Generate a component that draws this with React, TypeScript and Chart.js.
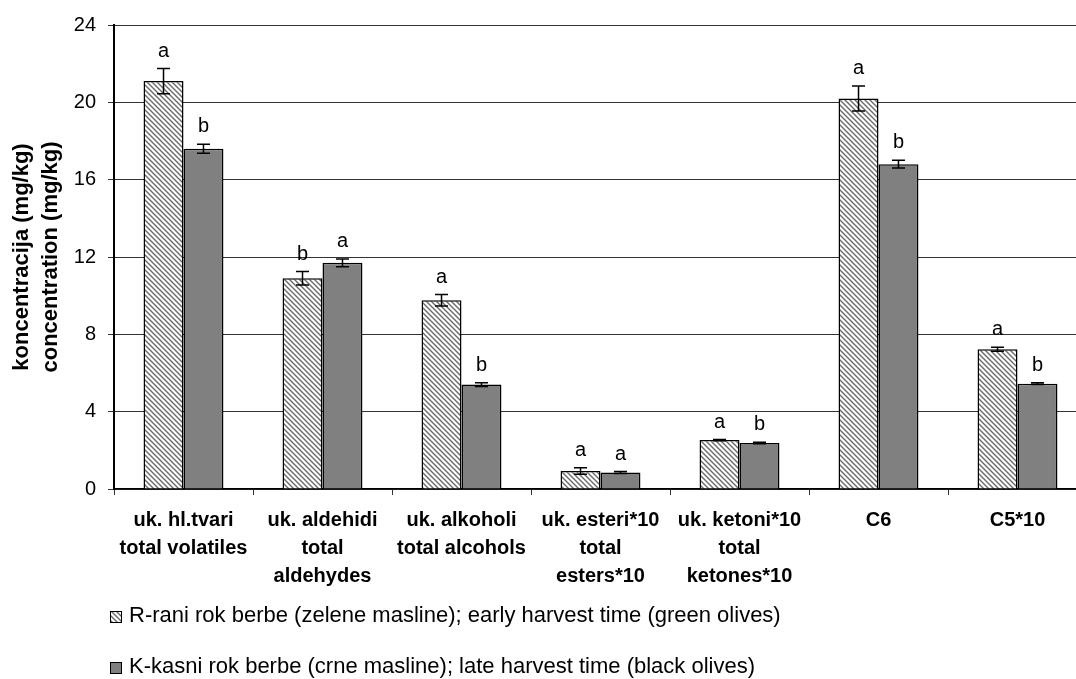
import React, { useEffect, useRef } from "react";
import { Chart, registerables } from "chart.js";

Chart.register(...registerables);

const categories: string[][] = [
  ["uk. hl.tvari", "total volatiles"],
  ["uk. aldehidi", "total", "aldehydes"],
  ["uk. alkoholi", "total alcohols"],
  ["uk. esteri*10", "total", "esters*10"],
  ["uk. ketoni*10", "total", "ketones*10"],
  ["C6"],
  ["C5*10"],
];

const earlyLabel = "R-rani rok berbe (zelene masline); early harvest time (green olives)";
const lateLabel = "K-kasni rok berbe (crne masline); late harvest time (black olives)";

const earlyValues = [21.1, 10.9, 9.76, 0.93, 2.53, 20.2, 7.23];
const lateValues = [17.6, 11.7, 5.4, 0.85, 2.38, 16.8, 5.45];

const earlyErrors = [0.65, 0.35, 0.3, 0.17, 0.03, 0.65, 0.1];
const lateErrors = [0.23, 0.2, 0.1, 0.05, 0.04, 0.2, 0.04];

const earlyLetters = ["a", "b", "a", "a", "a", "a", "a"];
const lateLetters = ["b", "a", "b", "a", "b", "b", "b"];

const yMin = 0;
const yMax = 24;
const yStep = 4;

const FONT = "'Liberation Sans', Arial, Helvetica, sans-serif";

function makeHatch(): CanvasPattern | string {
  const c = document.createElement("canvas");
  const s = 5;
  c.width = s;
  c.height = s;
  const ctx = c.getContext("2d");
  if (!ctx) return "#ccc";
  ctx.fillStyle = "#ffffff";
  ctx.fillRect(0, 0, s, s);
  ctx.strokeStyle = "#6a6a6a";
  ctx.lineWidth = 1.4;
  ctx.beginPath();
  ctx.moveTo(-1, -1);
  ctx.lineTo(s + 1, s + 1);
  ctx.moveTo(-1, s - 1);
  ctx.lineTo(1, s + 1);
  ctx.moveTo(s - 1, -1);
  ctx.lineTo(s + 1, 1);
  ctx.stroke();
  const p = ctx.createPattern(c, "repeat");
  return p || "#ccc";
}

export default function App() {
  const ref = useRef<HTMLCanvasElement | null>(null);

  useEffect(() => {
    if (!ref.current) return;
    const hatch = makeHatch();
    const errors = [earlyErrors, lateErrors];
    const letters = [earlyLetters, lateLetters];

    const errorPlugin = {
      id: "errorBarsLetters",
      afterDatasetsDraw(chart: any) {
        const ctx = chart.ctx as CanvasRenderingContext2D;
        const y = chart.scales.y;
        ctx.save();
        chart.data.datasets.forEach((ds: any, i: number) => {
          const meta = chart.getDatasetMeta(i);
          meta.data.forEach((el: any, j: number) => {
            const v = ds.data[j] as number;
            const e = errors[i][j];
            const x = el.x;
            const yt = y.getPixelForValue(v + e);
            const yb = y.getPixelForValue(v - e);
            ctx.strokeStyle = "#000";
            ctx.lineWidth = 1.5;
            ctx.beginPath();
            ctx.moveTo(x, yt);
            ctx.lineTo(x, yb);
            ctx.moveTo(x - 6.5, yt);
            ctx.lineTo(x + 6.5, yt);
            ctx.moveTo(x - 6.5, yb);
            ctx.lineTo(x + 6.5, yb);
            ctx.stroke();
            ctx.fillStyle = "#000";
            ctx.font = `20px ${FONT}`;
            ctx.textAlign = "center";
            ctx.textBaseline = "alphabetic";
            ctx.fillText(letters[i][j], x, yt - 12);
          });
        });
        ctx.restore();
      },
    };

    const legendPlugin = {
      id: "customLegend",
      afterDraw(chart: any) {
        const ctx = chart.ctx as CanvasRenderingContext2D;
        const items = [
          { label: earlyLabel, fill: hatch, base: 622 },
          { label: lateLabel, fill: "#808080", base: 673 },
        ];
        ctx.save();
        items.forEach((it) => {
          ctx.fillStyle = it.fill as any;
          ctx.fillRect(110, it.base - 11, 12, 12);
          ctx.strokeStyle = "#000";
          ctx.lineWidth = 1;
          ctx.strokeRect(110.5, it.base - 10.5, 11, 11);
          ctx.fillStyle = "#000";
          ctx.font = `22px ${FONT}`;
          ctx.textAlign = "left";
          ctx.textBaseline = "alphabetic";
          ctx.fillText(it.label, 129, it.base);
        });
        ctx.restore();
      },
    };

    const chart = new Chart(ref.current, {
      type: "bar",
      data: {
        labels: categories,
        datasets: [
          {
            label: earlyLabel,
            data: earlyValues,
            backgroundColor: hatch as any,
            borderColor: "#000",
            borderWidth: 1.5,
            barPercentage: 1,
            categoryPercentage: 0.575,
          },
          {
            label: lateLabel,
            data: lateValues,
            backgroundColor: "#808080",
            borderColor: "#000",
            borderWidth: 1.5,
            barPercentage: 1,
            categoryPercentage: 0.575,
          },
        ],
      },
      options: {
        responsive: false,
        animation: false,
        events: [],
        layout: { padding: { top: 25, right: 13, bottom: 0, left: 0 } },
        plugins: {
          legend: { display: false },
          tooltip: { enabled: false },
          title: { display: false },
        },
        scales: {
          x: {
            offset: true,
            grid: {
              offset: true,
              drawOnChartArea: false,
              drawTicks: true,
              tickLength: 6,
              color: "#333",
            },
            border: { display: true, color: "#000", width: 1.5 },
            ticks: {
              color: "#000",
              padding: 11,
              maxRotation: 0,
              autoSkip: false,
              font: { family: FONT, size: 20, weight: "bold", lineHeight: 1.4 },
            },
            afterFit: (scale: any) => {
              scale.height = 190;
            },
          },
          y: {
            min: yMin,
            max: yMax,
            grid: {
              color: "#333",
              lineWidth: 1,
              drawTicks: true,
              tickLength: 6,
            },
            border: { display: true, color: "#000", width: 2 },
            ticks: {
              stepSize: yStep,
              color: "#000",
              padding: 12,
              font: { family: FONT, size: 20 },
            },
            title: {
              display: true,
              text: ["koncentracija (mg/kg)", "concentration (mg/kg)"],
              color: "#000",
              padding: { top: 7.5, bottom: 0 },
              font: { family: FONT, size: 22, weight: "bold", lineHeight: 1.32 },
            },
            afterFit: (scale: any) => {
              scale.width = 114;
            },
          },
        },
      },
      plugins: [errorPlugin, legendPlugin],
    });

    return () => {
      chart.destroy();
    };
  }, []);

  return (
    <div
      style={{
        position: "fixed",
        left: 0,
        top: 0,
        width: 1076,
        height: 679,
        overflow: "hidden",
        background: "#fff",
      }}
    >
      <canvas ref={ref} width={1100} height={679} style={{ display: "block" }} />
    </div>
  );
}
